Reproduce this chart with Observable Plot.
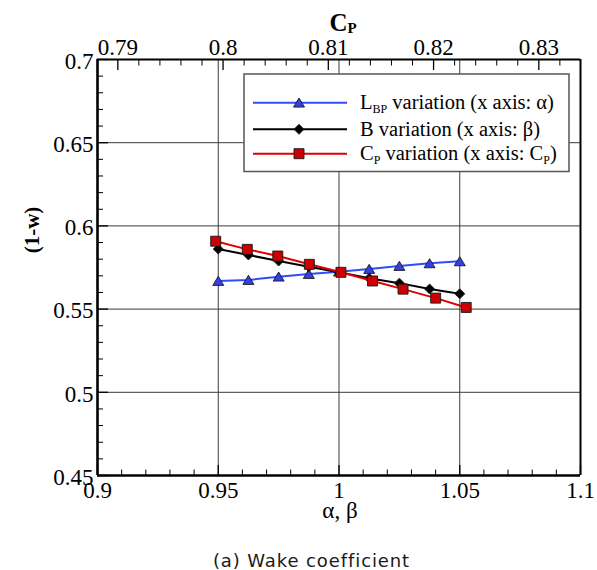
<!DOCTYPE html>
<html>
<head>
<meta charset="utf-8">
<script src="https://cdn.jsdelivr.net/npm/d3@7"></script>
<script src="https://cdn.jsdelivr.net/npm/@observablehq/plot@0.6"></script>
<style>
  body { margin: 0; background: #fff; }
  #wrap { position: relative; width: 597px; height: 570px; overflow: hidden; background: #fff; }
  #chart svg { display: block; }
  #chart svg text, #overlay text, #overlay tspan { font-family: "Liberation Serif", serif !important; }
  #overlay { position: absolute; left: 0; top: 0; pointer-events: none; }
  #caption {
    box-sizing: border-box; width: 597px; height: 35px;
    padding-top: 16px; padding-left: 26px;
    text-align: center; font-family: "DejaVu Sans", sans-serif; font-size: 18px;
    line-height: 20px; letter-spacing: 0.9px; color: #1a1a1a; white-space: nowrap;
  }
</style>
</head>
<body>
<div id="wrap">
  <div id="chart"></div>
  <div id="caption">(a) Wake coefficient</div>
  <svg id="overlay" width="597" height="535"></svg>
</div>
<script>
// ---------------- data ----------------
const alphaValues = [0.95, 0.9625, 0.975, 0.9875, 1.0, 1.0125, 1.025, 1.0375, 1.05];
const betaValues  = [0.95, 0.9625, 0.975, 0.9875, 1.0, 1.0125, 1.025, 1.0375, 1.05];
const cpValues    = [0.7993, 0.8023, 0.8052, 0.8082, 0.8112, 0.8142, 0.8171, 0.8202, 0.8231];

const wLBP = [0.5669, 0.5675, 0.5695, 0.5711, 0.5725, 0.5741, 0.5759, 0.5775, 0.5787];
const wB   = [0.5861, 0.5825, 0.5789, 0.5755, 0.5721, 0.5685, 0.5656, 0.5621, 0.5592];
const wCP  = [0.5908, 0.5859, 0.5819, 0.5769, 0.5721, 0.5669, 0.5620, 0.5566, 0.5510];

// axes / ticks
const xDomain  = [0.9, 1.1];
const cpDomain = [0.78807, 0.83396];
const yDomain  = [0.45, 0.7];
const xMajorTicks  = [0.9, 0.95, 1, 1.05, 1.1];
const xMinorTicks  = d3.range(91, 110).filter(v => v % 5 !== 0).map(v => v / 100);
const cpMajorTicks = [0.79, 0.8, 0.81, 0.82, 0.83];
const cpMinorTicks = d3.range(792, 833, 2).filter(v => v % 10 !== 0).map(v => v / 1000);
const yMajorTicks  = [0.45, 0.5, 0.55, 0.6, 0.65, 0.7];
const yMinorTicks  = d3.range(46, 70).filter(v => v % 5 !== 0).map(v => v / 100);
const xGrid = [0.95, 1, 1.05];
const yGrid = [0.5, 0.55, 0.6, 0.65];

// ---------------- symbols ----------------
const triSym = { draw(ctx, size) { const r = Math.sqrt(size / Math.PI);
  ctx.moveTo(0, -0.85 * r); ctx.lineTo(r, 0.8 * r); ctx.lineTo(-r, 0.8 * r); ctx.closePath(); } };
const diaSym = { draw(ctx, size) { const r = Math.sqrt(size / Math.PI);
  ctx.moveTo(0, -r); ctx.lineTo(r, 0); ctx.lineTo(0, r); ctx.lineTo(-r, 0); ctx.closePath(); } };
const sqSym = { draw(ctx, size) { const r = Math.sqrt(size / Math.PI);
  ctx.rect(-r, -r, 2 * r, 2 * r); } };

const lineColors = ["#2f4cff", "#000000", "#e00000"];
const fillColors = ["#3340e6", "#000000", "#cc0000"];
const symbols = [triSym, diaSym, sqSym];
const radii = [5.5, 5, 5];

// secondary (top) axis: Cp mapped onto the alpha/beta axis
const cpToX = d3.scaleLinear().domain(cpDomain).range(xDomain);
const fmt = v => String(+v.toFixed(3));

const series = [
  alphaValues.map((a, i) => ({x: a, w: wLBP[i]})),
  betaValues.map((b, i) => ({x: b, w: wB[i]})),
  cpValues.map((c, i) => ({x: cpToX(c), w: wCP[i]}))
];

const seriesMarks = series.flatMap((data, k) => [
  Plot.line(data, {x: "x", y: "w", stroke: lineColors[k], strokeWidth: 2}),
  Plot.dot(data, {x: "x", y: "w", symbol: symbols[k], r: radii[k], fill: fillColors[k], stroke: "#1a1a1a", strokeWidth: 0.9})
]);

const tickStyle = {fill: "none", label: null, stroke: "#000"};
const labelStyle = {label: null, fontSize: 23, fill: "#000"};

const chart = Plot.plot({
  width: 597, height: 535,
  marginLeft: 97, marginRight: 17, marginTop: 59, marginBottom: 60,
  x: {domain: xDomain, label: null},
  y: {domain: yDomain, label: null},
  style: "font-size: 23px; color: #000; background: #fff;",
  marks: [
    Plot.gridX(xGrid, {stroke: "#3a3a3a", strokeOpacity: 1, strokeWidth: 1}),
    Plot.gridY(yGrid, {stroke: "#3a3a3a", strokeOpacity: 1, strokeWidth: 1}),
    // inward ticks
    Plot.axisX(xMajorTicks, {anchor: "bottom", tickSize: -10, ...tickStyle, strokeWidth: 1.3}),
    Plot.axisX(xMinorTicks, {anchor: "bottom", tickSize: -5.5, ...tickStyle}),
    Plot.axisX(cpMajorTicks.map(cpToX), {anchor: "top", tickSize: -10, ...tickStyle, strokeWidth: 1.3}),
    Plot.axisX(cpMinorTicks.map(cpToX), {anchor: "top", tickSize: -5.5, ...tickStyle}),
    Plot.axisY(yMajorTicks, {anchor: "left", tickSize: -11, ...tickStyle, strokeWidth: 1.3}),
    Plot.axisY(yMinorTicks, {anchor: "left", tickSize: -6, ...tickStyle}),
    // tick labels
    Plot.axisX(xMajorTicks, {anchor: "bottom", tickSize: 0, tickPadding: 6, tickFormat: fmt, ...labelStyle}),
    Plot.axisX(cpMajorTicks.map(cpToX), {anchor: "top", tickSize: 0, tickPadding: 5, tickFormat: d => fmt(cpToX.invert(d)), ...labelStyle}),
    Plot.axisY(yMajorTicks, {anchor: "left", tickSize: 0, tickPadding: 4, tickFormat: fmt, ...labelStyle, dy: 2}),
    // data
    ...seriesMarks,
    // frame
    Plot.ruleX([xDomain[1]], {stroke: "#000", strokeWidth: 2}),
    Plot.ruleY([yDomain[1]], {stroke: "#000", strokeWidth: 2}),
    Plot.ruleX([xDomain[0]], {stroke: "#000", strokeWidth: 2.6}),
    Plot.ruleY([yDomain[0]], {stroke: "#000", strokeWidth: 2.6})
  ]
});
document.getElementById("chart").appendChild(chart);

// ---------------- titles & legend overlay ----------------
const ov = d3.select("#overlay");

// top axis title C_P
const tt = ov.append("text").attr("x", 343).attr("y", 31).attr("text-anchor", "middle")
  .style("font-weight", "bold").attr("font-size", 25);
tt.append("tspan").text("C");
tt.append("tspan").attr("font-size", 15).attr("dy", 2).text("P");

// left axis title
ov.append("text").attr("transform", "translate(39,230) rotate(-90)").attr("text-anchor", "middle")
  .style("font-weight", "bold").attr("font-size", 21).text("(1-w)");

// bottom axis title
ov.append("text").attr("x", 340).attr("y", 518).attr("text-anchor", "middle")
  .attr("font-size", 23).text("α, β");

// legend
const lg = ov.append("g");
lg.append("rect").attr("x", 244).attr("y", 74).attr("width", 325).attr("height", 97.5)
  .attr("fill", "#fff").attr("stroke", "#555").attr("stroke-width", 1.5);
const rowY = [102.7, 129.3, 153.7];
const labelParts = [
  [["L", 0], ["BP", 1], [" variation (x axis: α)", 0]],
  [["B variation (x axis: β)", 0]],
  [["C", 0], ["P", 1], [" variation (x axis: C", 0], ["P", 1], [")", 0]]
];
rowY.forEach((y, k) => {
  lg.append("line").attr("x1", 253).attr("x2", 347).attr("y1", y).attr("y2", y)
    .attr("stroke", lineColors[k]).attr("stroke-width", 2);
  lg.append("path").attr("transform", `translate(299,${y})`)
    .attr("d", d3.symbol().type(symbols[k]).size(Math.PI * radii[k] * radii[k])())
    .attr("fill", fillColors[k]).attr("stroke", "#1a1a1a").attr("stroke-width", 0.9);
  const t = lg.append("text").attr("x", 360).attr("y", y + 6.7).attr("font-size", 20.5);
  let sub = false;
  labelParts[k].forEach(([s, isSub]) => {
    const ts = t.append("tspan").text(s);
    if (isSub && !sub) { ts.attr("font-size", 12).attr("dy", 4); sub = true; }
    else if (!isSub && sub) { ts.attr("dy", -4); sub = false; }
    else if (isSub) ts.attr("font-size", 12);
  });
});
</script>
</body>
</html>
